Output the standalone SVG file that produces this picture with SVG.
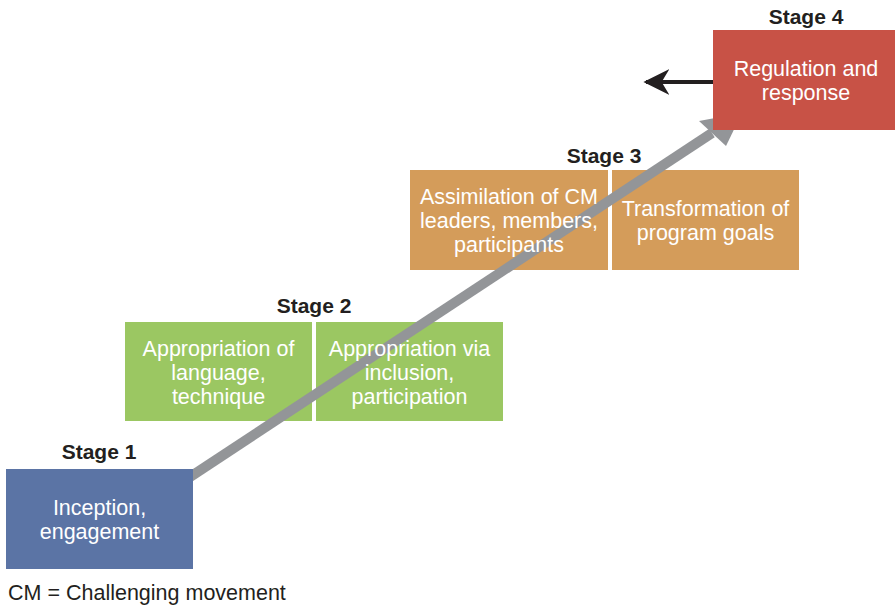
<svg xmlns="http://www.w3.org/2000/svg" width="895" height="605" viewBox="0 0 895 605">
<style>
.t{font-family:"Liberation Sans",Arial,sans-serif;font-size:21.5px;fill:#fff;text-anchor:middle}
.s{font-family:"Liberation Sans",Arial,sans-serif;font-size:21px;font-weight:bold;fill:#231f20;text-anchor:middle}
.n{font-family:"Liberation Sans",Arial,sans-serif;font-size:21.5px;fill:#231f20}
</style>
<defs>
<marker id="blk" viewBox="0 0 10 10" refX="9" refY="5" markerWidth="6.5" markerHeight="6.5" markerUnits="strokeWidth" orient="auto"><path d="M0,0 L10,5 L0,10 L3,5 Z" fill="#231f20"/></marker>
</defs>
<rect width="895" height="605" fill="#fff"/>
<g id="stage2">
<text class="s" x="314" y="313">Stage 2</text>
<rect id="n2a" x="125" y="322" width="187" height="99" fill="#9bc762"/>
<rect id="n2b" x="316" y="322" width="187" height="99" fill="#9bc762"/>
</g>
<g id="stage3">
<text class="s" x="604" y="163">Stage 3</text>
<rect id="n3a" x="410" y="170" width="198" height="100" fill="#d49c5a"/>
<rect id="n3b" x="612" y="170" width="187" height="100" fill="#d49c5a"/>
</g>
<g id="connectors">
<line x1="190" y1="477" x2="712" y2="133" stroke="#939598" stroke-width="10"/>
<path d="M742,113 L699,121 L726,146 Z" fill="#939598"/>
<line x1="713" y1="82" x2="646" y2="82" stroke="#231f20" stroke-width="4" marker-end="url(#blk)"/>
</g>
<g id="stage2-labels">
<text class="t" x="218.5" y="356">Appropriation of</text><text class="t" x="218.5" y="380">language,</text><text class="t" x="218.5" y="404">technique</text>
<text class="t" x="409.5" y="356">Appropriation via</text><text class="t" x="409.5" y="380">inclusion,</text><text class="t" x="409.5" y="404">participation</text>
</g>
<g id="stage3-labels">
<text class="t" x="509" y="204">Assimilation of CM</text><text class="t" x="509" y="228">leaders, members,</text><text class="t" x="509" y="252">participants</text>
<text class="t" x="705.5" y="216">Transformation of</text><text class="t" x="705.5" y="240">program goals</text>
</g>
<g id="stage1">
<text class="s" x="99" y="459">Stage 1</text>
<rect x="6" y="469" width="187" height="100" fill="#5b74a5"/>
<text class="t" x="99.5" y="515">Inception,</text><text class="t" x="99.5" y="539">engagement</text>
</g>
<g id="stage4">
<text class="s" x="806" y="24">Stage 4</text>
<rect x="713" y="30" width="182" height="100" fill="#c85246"/>
<text class="t" x="806" y="76">Regulation and</text><text class="t" x="806" y="100">response</text>
</g>
<text class="n" x="8" y="600">CM = Challenging movement</text>
</svg>
